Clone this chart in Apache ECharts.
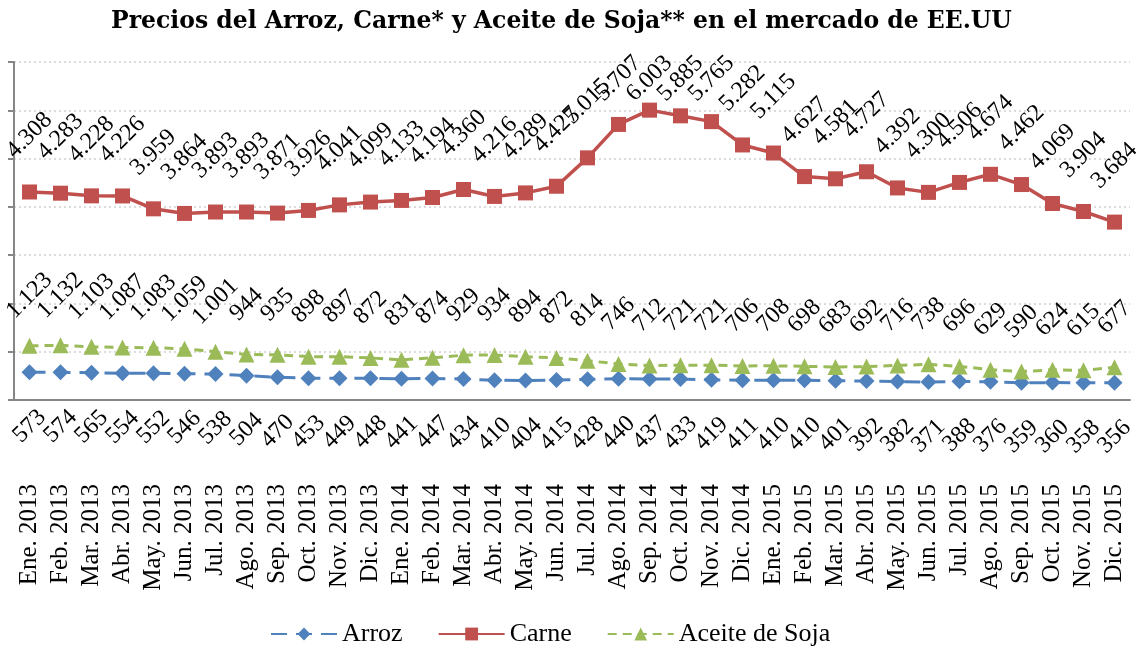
<!DOCTYPE html>
<html>
<head>
<meta charset="utf-8">
<script src="https://cdn.jsdelivr.net/npm/echarts@6/dist/echarts.min.js"></script>
<style>
html,body{margin:0;padding:0;background:#fff;}
#chart{width:1145px;height:648px;}
</style>
</head>
<body>
<div id="chart"></div>
<script>
const categories = ["Ene. 2013","Feb. 2013","Mar. 2013","Abr. 2013","May. 2013","Jun. 2013","Jul. 2013","Ago. 2013","Sep. 2013","Oct. 2013","Nov. 2013","Dic. 2013",
"Ene. 2014","Feb. 2014","Mar. 2014","Abr. 2014","May. 2014","Jun. 2014","Jul. 2014","Ago. 2014","Sep. 2014","Oct. 2014","Nov. 2014","Dic. 2014",
"Ene. 2015","Feb. 2015","Mar. 2015","Abr. 2015","May. 2015","Jun. 2015","Jul. 2015","Ago. 2015","Sep. 2015","Oct. 2015","Nov. 2015","Dic. 2015"];
const arroz = [573,574,565,554,552,546,538,504,470,453,449,448,441,447,434,410,404,415,428,440,437,433,419,411,410,410,401,392,382,371,388,376,359,360,358,356];
const carne = [4308,4283,4228,4226,3959,3864,3893,3893,3871,3926,4041,4099,4133,4194,4360,4216,4289,4427,5015,5707,6003,5885,5765,5282,5115,4627,4581,4727,4392,4300,4506,4674,4462,4069,3904,3684];
const aceite = [1123,1132,1103,1087,1083,1059,1001,944,935,898,897,872,831,874,929,934,894,872,814,746,712,721,721,706,708,698,683,692,716,738,696,629,590,624,615,677];
const titleText = "Precios del Arroz, Carne* y Aceite de Soja** en el mercado de EE.UU";

const serif = "'Liberation Serif', 'Times New Roman', serif";
function fmt(v){
  const s = String(v);
  return s.length > 3 ? s.slice(0, s.length-3) + '.' + s.slice(s.length-3) : s;
}
const chart = echarts.init(document.getElementById('chart'), null, {renderer:'canvas'});
const labelBase = {show:true, rotate:45, align:'center', verticalAlign:'middle', color:'#000', fontFamily:serif, fontSize:24,
  formatter: p => fmt(p.value)};
const LABEL_TOP = 51;
chart.setOption({
  animation:false,
  backgroundColor:'#fff',
  title:{text:titleText, left:106, top:5,
    textStyle:{fontFamily:"'DejaVu Serif', serif", fontWeight:'bold', fontSize:23.5, color:'#000'}},
  grid:{left:14, right:15, top:62, bottom:248, containLabel:false},
  legend:{left:265, top:616, itemWidth:66, itemHeight:16, itemGap:35,
    textStyle:{fontFamily:serif, fontSize:26, color:'#000'},
    data:['Arroz','Carne','Aceite de Soja']},
  xAxis:{type:'category', data:categories, boundaryGap:true,
    axisLine:{show:true, lineStyle:{color:'#868686', width:2}},
    axisTick:{show:false},
    axisLabel:{interval:0, rotate:90, margin:84, color:'#000', fontFamily:serif, fontSize:25}},
  yAxis:{type:'value', min:0, max:7000, interval:1000,
    axisLine:{show:true, lineStyle:{color:'#868686', width:2}},
    axisTick:{show:true, inside:false, length:6, lineStyle:{color:'#868686', width:2}},
    axisLabel:{show:false},
    splitLine:{show:true, lineStyle:{color:'#d0d0d0', type:[2,3], width:1.5}}},
  series:[
    {name:'Arroz', type:'line', data:arroz, symbol:'diamond', symbolSize:16,
      itemStyle:{color:'#4F81BD'}, lineStyle:{color:'#4F81BD', width:3, type:[16,9]},
      label:Object.assign({}, labelBase, {position:'bottom', distance:46}), z:3},
    {name:'Carne', type:'line', data:carne, symbol:'rect', symbolSize:15,
      itemStyle:{color:'#C0504D'}, lineStyle:{color:'#C0504D', width:3.5},
      label:Object.assign({}, labelBase, {position:'top', distance:49}), z:4,
      labelLayout: function(p){
        if (p.labelRect && p.labelRect.y < LABEL_TOP) {
          return {y: LABEL_TOP + p.labelRect.height/2};
        }
        return {};
      }},
    {name:'Aceite de Soja', type:'line', data:aceite, symbol:'triangle', symbolSize:16,
      itemStyle:{color:'#9BBB59'}, lineStyle:{color:'#9BBB59', width:3, type:[9,6]},
      label:Object.assign({}, labelBase, {position:'top', distance:42}), z:3}
  ]
});
</script>
</body>
</html>
